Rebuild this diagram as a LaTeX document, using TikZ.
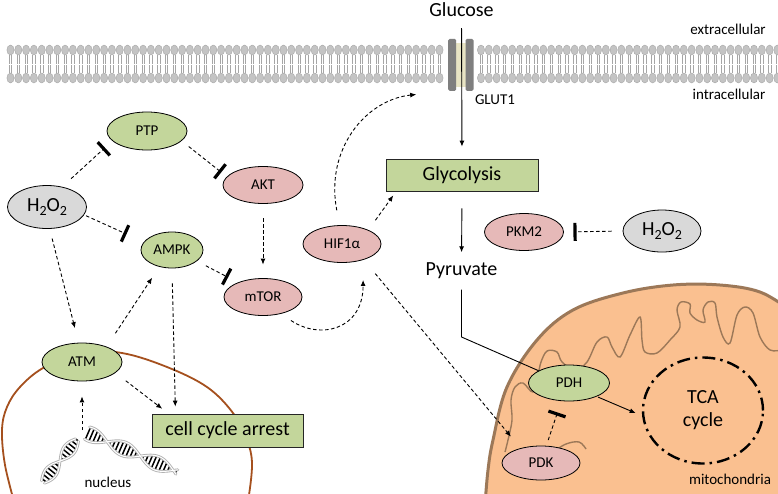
\documentclass[tikz,border=0pt]{standalone}
\usepackage{fontspec}
\setmainfont{Carlito}
\usetikzlibrary{arrows.meta,shapes.geometric}
\definecolor{ngreen}{HTML}{C3D69B}
\definecolor{npink}{HTML}{E6B9B8}
\definecolor{ngray}{HTML}{D9D9D9}
\definecolor{mitofill}{HTML}{FAC090}
\definecolor{mitoline}{HTML}{9C7858}
\definecolor{nucline}{HTML}{A5501E}
\definecolor{lipid}{HTML}{C4C4C4}
\definecolor{lipidline}{HTML}{A6A6A6}
\definecolor{glutc}{HTML}{7F7F7F}
\definecolor{glutb}{HTML}{E8E4C4}
\newcommand{\subt}[1]{\raisebox{-0.2em}{\fontsize{14}{14}\selectfont #1}}
\begin{document}
\begin{tikzpicture}[x=1pt,y=-1pt,
  ell/.style={ellipse, draw=black, line width=0.8pt, inner sep=0pt, font=\fontsize{15}{18}\selectfont},
  gnode/.style={ell, fill=ngreen},
  pnode/.style={ell, fill=npink},
  hnode/.style={ell, fill=ngray, font=\fontsize{20}{24}\selectfont},
  boxnode/.style={rectangle, draw=black!85, line width=0.8pt, fill=ngreen, font=\fontsize{20}{24}\selectfont, inner sep=0pt},
  lbl/.style={inner sep=0pt, font=\fontsize{15}{18}\selectfont},
  big/.style={inner sep=0pt, font=\fontsize{20}{24}\selectfont},
  act/.style={line width=0.9pt, dash pattern=on 3.5pt off 2.5pt, -{Latex[length=6pt,width=5pt]}},
  solidarr/.style={line width=0.9pt, -{Latex[length=6pt,width=5pt]}},
  inh/.style={line width=0.9pt, dash pattern=on 3.5pt off 2.5pt, -{Bar[width=18pt,line width=3.2pt]}},
  strandout/.style={line width=2.8pt, gray!60, line cap=round},
  strandin/.style={line width=1pt, white, line cap=round},
  rung/.style={line width=1.5pt, black}
]
\useasboundingbox (0,0) rectangle (778,493);
\fill[white] (0,0) rectangle (778,493);

% ---------- membrane ----------
\foreach \x in {10.5,18.3,...,442} {
  \draw[lipidline, line width=0.5pt] ({\x-1.2},55) -- ({\x-1.2},63.5) ({\x+1.2},55) -- ({\x+1.2},63.5)
     ({\x-1.2},65) -- ({\x-1.2},73) ({\x+1.2},65) -- ({\x+1.2},73);
  \filldraw[fill=lipid, draw=lipidline, line width=0.4pt] (\x,50) ellipse [x radius=3.6pt, y radius=5pt];
  \filldraw[fill=lipid, draw=lipidline, line width=0.4pt] (\x,78) ellipse [x radius=3.6pt, y radius=5pt];
}
\foreach \x in {481,488.8,...,782} {
  \draw[lipidline, line width=0.5pt] ({\x-1.2},55) -- ({\x-1.2},63.5) ({\x+1.2},55) -- ({\x+1.2},63.5)
     ({\x-1.2},65) -- ({\x-1.2},73) ({\x+1.2},65) -- ({\x+1.2},73);
  \filldraw[fill=lipid, draw=lipidline, line width=0.4pt] (\x,50) ellipse [x radius=3.6pt, y radius=5pt];
  \filldraw[fill=lipid, draw=lipidline, line width=0.4pt] (\x,78) ellipse [x radius=3.6pt, y radius=5pt];
}
% GLUT1
\fill[glutb] (456,43) rectangle (466,87);
\node[fill=glutc, rounded corners=1.5pt, minimum width=8pt, minimum height=52pt, inner sep=0pt] (glutL) at (452.2,64.8) {};
\node[fill=glutc, rounded corners=1.5pt, minimum width=8pt, minimum height=52pt, inner sep=0pt] (glutR) at (469.5,64.8) {};

% ---------- nucleus ----------
\draw[nucline, line width=1.8pt] plot[smooth, tension=0.6] coordinates {(15,505) (5,465) (2,430) (7,407) (20,387) (43,368) (80,352) (122,353) (167,367) (207,387) (233,413) (247,440) (252,463) (249,495) (246,505)};

% ---------- mitochondrion ----------
\fill[mitofill] plot[smooth, tension=0.6] coordinates {(485,505) (488,470) (493,440) (507,387) (537,340) (573,310) (623,293) (673,285) (720,285) (760,292) (790,310)} -- (790,505) -- cycle;
\draw[mitoline, line width=3pt] plot[smooth, tension=0.6] coordinates {(485,505) (488,470) (493,440) (507,387) (537,340) (573,310) (623,293) (673,285) (720,285) (760,292) (790,310)};
\draw[mitoline, line width=1.4pt] plot[smooth, tension=0.55] coordinates {(505,452) (508,440) (512,420) (511,400) (515,387) (523,383) (533,392) (538,375) (541,362) (547,351) (557,352) (562,362) (575,370) (587,362) (597,342) (607,337) (612,347) (620,357) (630,335) (640,317) (642,340) (645,352) (657,353) (670,340) (680,327) (677,310) (681,302) (690,304) (690,313) (697,320) (705,322) (703,310) (708,302) (715,303) (717,317) (723,337) (730,343) (737,315) (745,307) (753,313) (760,337) (770,350) (782,350)};
\draw[mitoline, line width=1.4pt] plot[smooth, tension=0.6] coordinates {(553,452) (566,444) (579,442) (586,449)};

% ---------- DNA ----------
\foreach \s in {1,5,...,97} {
  \draw[rung] ({87+0.918*\s-0.398*6*sin(5*(\s-22))},{433+0.398*\s+0.918*6*sin(5*(\s-22))}) -- ({87+0.918*\s+0.398*6*sin(5*(\s-22))},{433+0.398*\s-0.918*6*sin(5*(\s-22))});
}
\draw[strandout] plot[domain=0:98, samples=70, smooth] ({87+0.918*\x-0.398*7*sin(5*(\x-22))},{433+0.398*\x+0.918*7*sin(5*(\x-22))});
\draw[strandout] plot[domain=0:98, samples=70, smooth] ({87+0.918*\x+0.398*7*sin(5*(\x-22))},{433+0.398*\x-0.918*7*sin(5*(\x-22))});
\draw[strandin] plot[domain=0:98, samples=70, smooth] ({87+0.918*\x-0.398*7*sin(5*(\x-22))},{433+0.398*\x+0.918*7*sin(5*(\x-22))});
\draw[strandin] plot[domain=0:98, samples=70, smooth] ({87+0.918*\x+0.398*7*sin(5*(\x-22))},{433+0.398*\x-0.918*7*sin(5*(\x-22))});
\foreach \s in {2,6,...,54} {
  \draw[rung] ({43+0.63*\s+0.778*5*sin(6*(\s-27))},{482-0.778*\s+0.63*5*sin(6*(\s-27))}) -- ({43+0.63*\s-0.778*5*sin(6*(\s-27))},{482-0.778*\s-0.63*5*sin(6*(\s-27))});
}
\draw[strandout] plot[domain=0:54, samples=50, smooth] ({43+0.63*\x+0.778*6*sin(6*(\x-27))},{482-0.778*\x+0.63*6*sin(6*(\x-27))});
\draw[strandout] plot[domain=0:54, samples=50, smooth] ({43+0.63*\x-0.778*6*sin(6*(\x-27))},{482-0.778*\x-0.63*6*sin(6*(\x-27))});
\draw[strandin] plot[domain=0:54, samples=50, smooth] ({43+0.63*\x+0.778*6*sin(6*(\x-27))},{482-0.778*\x+0.63*6*sin(6*(\x-27))});
\draw[strandin] plot[domain=0:54, samples=50, smooth] ({43+0.63*\x-0.778*6*sin(6*(\x-27))},{482-0.778*\x-0.63*6*sin(6*(\x-27))});
\coordinate (dnatop) at (82,430);

% ---------- nodes ----------
\node[gnode, minimum width=80pt, minimum height=38pt] (ptp) at (147,131) {PTP};
\node[pnode, minimum width=80pt, minimum height=37pt] (akt) at (263,185) {AKT};
\node[hnode, minimum width=79pt, minimum height=43pt] (h2l) at (47,207) {H\subt{2}O\subt{2}};
\node[gnode, minimum width=62pt, minimum height=36pt] (ampk) at (172,250) {AMPK};
\node[pnode, minimum width=78pt, minimum height=37pt] (mtor) at (263,297) {mTOR};
\node[gnode, minimum width=80pt, minimum height=38pt] (atm) at (82,362) {ATM};
\node[boxnode, minimum width=151pt, minimum height=33pt] (cca) at (227.5,430.5) {cell cycle arrest};
\node[pnode, minimum width=78pt, minimum height=37pt] (hif) at (342,244) {HIF1α};
\node[boxnode, minimum width=152pt, minimum height=32pt] (glyc) at (462,175) {Glycolysis};
\node[pnode, minimum width=79pt, minimum height=37pt] (pkm) at (524,232) {PKM2};
\node[hnode, minimum width=78pt, minimum height=42pt] (h2r) at (662,231) {H\subt{2}O\subt{2}};
\node[gnode, minimum width=81pt, minimum height=36pt] (pdh) at (569,383) {PDH};
\node[pnode, minimum width=78pt, minimum height=34pt] (pdk) at (541,463) {PDK};
\node[ellipse, draw=black, line width=2.4pt, dash pattern=on 13pt off 5pt on 2.5pt off 5pt, minimum width=120pt, minimum height=106pt, inner sep=0pt, align=center, font=\fontsize{20}{23}\selectfont] (tca) at (703,410.5) {TCA\\cycle};

\node[big] (glucose) at (461.5,10) {Glucose};
\node[big, text height=13pt, text depth=4pt] (pyr) at (461.5,271) {Pyruvate};
\node[lbl] (extra) at (728,29) {extracellular};
\node[lbl] (intra) at (729,94) {intracellular};
\node[lbl] (glutlbl) at (495,100) {GLUT1};
\node[lbl] (nuc) at (108,482.5) {nucleus};
\node[lbl] (mito) at (730,479) {mitochondria};

% ---------- connectors ----------
\draw[inh, shorten <=12pt, shorten >=10pt] (h2l.53) -- (ptp.196);
\draw[inh, shorten <=9pt, shorten >=7pt] (ptp.-16) -- (akt.167);
\draw[inh, shorten <=2pt, shorten >=19pt] (h2l.-12) -- (ampk.164);
\draw[inh, shorten <=10pt, shorten >=11pt] (ampk.-24) -- (mtor.150);
\draw[act, shorten <=14.5pt, shorten >=13.5pt] (akt.south) -- (mtor.north);
\draw[act, shorten <=10pt, shorten >=15pt] (h2l.-83) -- (atm.100);
\draw[act, shorten <=16pt, shorten >=13pt] (atm.32) -- (ampk.233);
\draw[act, shorten <=15pt, shorten >=7pt] (ampk.south) -- (cca.162);
\draw[act, shorten <=13pt, shorten >=8pt] (atm.-18) -- (cca.164);
\draw[act, shorten >=15pt] (dnatop) -- (atm.south);
\draw[act, shorten <=12pt, shorten >=20pt] (mtor.-43) .. controls (320,340) and (363,330) .. (hif.-37);
\draw[act, shorten <=12pt, shorten >=5pt] (hif.28) -- (glyc.194);
\draw[act, shorten <=15pt, shorten >=32pt] (hif.97) .. controls (325,150) and (365,100) .. (glutL.south west);
\draw[act, shorten <=18pt, shorten >=15pt] (hif.-36) -- (pdk.144);
\draw[solidarr, shorten <=11pt, shorten >=12pt] (glucose.south) -- (glyc.north);
\draw[solidarr, shorten <=17pt, shorten >=10pt] (glyc.south) -- (pyr.north);
\draw[inh, shorten <=11pt, shorten >=9.5pt] (h2r.west) -- (pkm.east);
\coordinate (pbend) at (461.5,337);
\draw[line width=0.9pt, shorten <=10pt] (pyr.south) -- (pbend) -- (pdh.158);
\draw[solidarr, shorten <=1.5pt, shorten >=7pt] (pdh.-26) -- (tca.185);
\draw[inh, shorten <=6pt, shorten >=12pt] (pdk.73) -- (pdh.247);
\end{tikzpicture}
\end{document}
